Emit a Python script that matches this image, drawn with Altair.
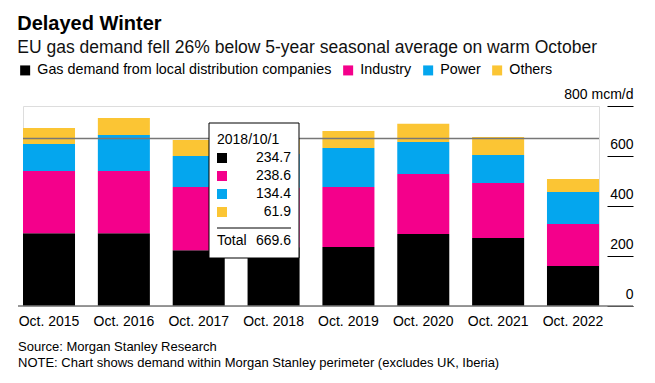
import altair as alt
import pandas as pd

FONT = "Liberation Sans"

categories = ["Oct. 2015", "Oct. 2016", "Oct. 2017", "Oct. 2018",
              "Oct. 2019", "Oct. 2020", "Oct. 2021", "Oct. 2022"]
series_names = ["Gas demand from local distribution companies", "Industry", "Power", "Others"]
colors = ["#000000", "#f4008b", "#04a6ee", "#fbc534"]

ldc = [291, 291, 223, 234.7, 236, 288, 272, 160]
industry = [249, 249, 253, 238.6, 240, 240, 220, 168]
power = [108, 144, 124, 134.4, 156, 128, 112, 128]
others = [64, 68, 64, 61.9, 68, 73, 72, 52]

y_ticks = [0, 200, 400, 600, 800]
hover_label = "2018/10/1"
hover_index = 3

rows = []
for i, c in enumerate(categories):
    for k, (name, vals) in enumerate(zip(series_names, [ldc, industry, power, others])):
        rows.append({"cat": c, "series": name, "value": vals[i], "idx": k})
df = pd.DataFrame(rows)

hover_vals = [ldc[hover_index], industry[hover_index], power[hover_index], others[hover_index]]
hover_total = round(sum(hover_vals), 1)
tip_df = pd.DataFrame({"series": series_names, "value": hover_vals, "idx": [0, 1, 2, 3]})
one = pd.DataFrame({"a": [0]})

W, H = 576, 200

bars = alt.Chart(df).mark_bar().encode(
    x=alt.X("cat:N", sort=categories,
            scale=alt.Scale(paddingInner=0.305, paddingOuter=0),
            axis=alt.Axis(title=None, labelAngle=0, ticks=False, domain=False,
                          labelPadding=8, labelFontSize=14, labelColor="#000",
                          labelFont=FONT)),
    y=alt.Y("value:Q", stack="zero",
            scale=alt.Scale(domain=[0, 800], nice=False),
            axis=alt.Axis(title=None, orient="right", values=y_ticks, tickSize=26,
                          offset=8, domain=False, grid=False, labelAlign="right",
                          labelPadding=0, labelBaseline="alphabetic", labelOffset=-8,
                          labelExpr="datum.value == 800 ? '800 mcm/d' : datum.label",
                          tickColor="#000", labelColor="#000", labelFontSize=14,
                          labelFont=FONT)),
    color=alt.Color("series:N", scale=alt.Scale(domain=series_names, range=colors),
                    legend=alt.Legend(title=None, orient="none", legendX=-5, legendY=-43,
                                      direction="horizontal", symbolType="square",
                                      symbolSize=100, symbolStrokeWidth=0,
                                      labelFontSize=14.3, labelFont=FONT, labelColor="#000",
                                      labelLimit=0,
                                      columnPadding=9, labelOffset=5, padding=0)),
    order=alt.Order("idx:Q"),
)

crosshair = alt.Chart(one).mark_rule(color="#777", strokeWidth=1.5).encode(
    y=alt.datum(hover_total), x=alt.value(0), x2=alt.value(W))

baseline = alt.Chart(one).mark_rule(color="#777", strokeWidth=1.5).encode(
    y=alt.datum(0), x=alt.value(-5), x2=alt.value(610))

tip_box = alt.Chart(one).mark_rect(fill="white", stroke="#000", strokeWidth=1).encode(
    x=alt.value(186), x2=alt.value(276), y=alt.value(17), y2=alt.value(152))

tip_head = alt.Chart(one).mark_text(align="left", baseline="middle", fontSize=14,
                                    font=FONT, color="#000", text=hover_label).encode(
    x=alt.value(194), y=alt.value(34))

tip_sq = alt.Chart(tip_df).transform_calculate(ypx="52 + 18 * datum.idx").mark_square(
    size=100, opacity=1, strokeWidth=0).encode(
    x=alt.value(199), y=alt.Y("ypx:Q", scale=None),
    color=alt.Color("series:N", scale=alt.Scale(domain=series_names, range=colors), legend=None))

tip_val = alt.Chart(tip_df).transform_calculate(ypx="52 + 18 * datum.idx").mark_text(
    align="right", baseline="middle", fontSize=14, font=FONT, color="#000").encode(
    x=alt.value(268), y=alt.Y("ypx:Q", scale=None), text=alt.Text("value:Q", format=".1f"))

tip_sep = alt.Chart(one).mark_rule(color="#000", strokeWidth=1).encode(
    x=alt.value(194), x2=alt.value(268), y=alt.value(122))

tip_total_l = alt.Chart(one).mark_text(align="left", baseline="middle", fontSize=14,
                                       font=FONT, color="#000", text="Total").encode(
    x=alt.value(194), y=alt.value(135))
tip_total_r = alt.Chart(one).mark_text(align="right", baseline="middle", fontSize=14,
                                       font=FONT, color="#000",
                                       text=f"{hover_total:.1f}").encode(
    x=alt.value(268), y=alt.value(135))

source = alt.Chart(one).mark_text(align="left", baseline="middle", fontSize=13,
                                  font=FONT, color="#000",
                                  text="Source: Morgan Stanley Research").encode(
    x=alt.value(-5), y=alt.value(241))
note = alt.Chart(one).mark_text(align="left", baseline="middle", fontSize=13,
                                font=FONT, color="#000",
                                text="NOTE: Chart shows demand within Morgan Stanley perimeter (excludes UK, Iberia)").encode(
    x=alt.value(-5), y=alt.value(257))

chart = alt.layer(
    bars, crosshair, baseline, tip_box, tip_head, tip_sq, tip_val, tip_sep,
    tip_total_l, tip_total_r, source, note
).properties(
    width=W, height=H,
    autosize=alt.AutoSizeParams(type="none"),
    padding={"left": 15, "top": 98, "right": 48, "bottom": 69},
    title=alt.TitleParams(
        "Delayed Winter",
        subtitle="EU gas demand fell 26% below 5-year seasonal average on warm October",
        anchor="start", font=FONT, fontSize=20, fontWeight="bold", color="#000",
        subtitleFont=FONT, subtitleFontSize=17.5, subtitleColor="#111",
        subtitlePadding=5, dx=0, offset=7),
).configure_view(stroke=None).configure(background="white")

chart.save("out.html", embed_options={"renderer": "svg", "actions": False})
